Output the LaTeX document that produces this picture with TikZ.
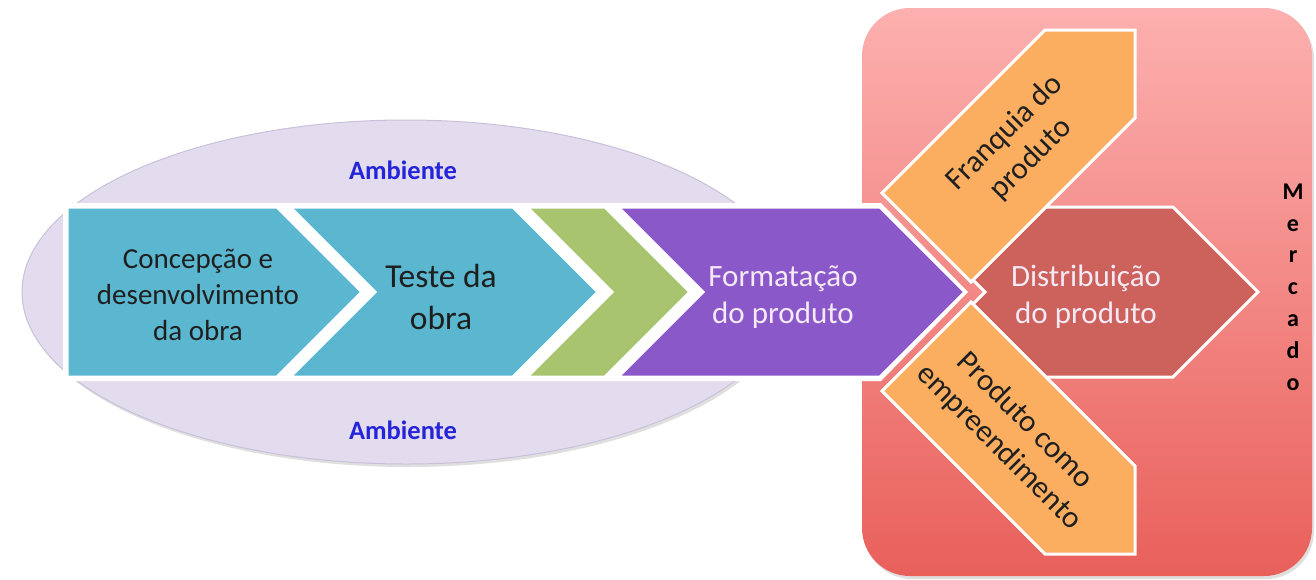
\documentclass[tikz,border=0pt]{standalone}
\usepackage{fontspec}
\setmainfont{Carlito}
\usetikzlibrary{shadows}
\definecolor{ellcol}{HTML}{E3DCEE}
\definecolor{elledge}{HTML}{C9C1D9}
\definecolor{bluecol}{HTML}{5AB7CF}
\definecolor{greencol}{HTML}{A8C46E}
\definecolor{purplecol}{HTML}{8A58C8}
\definecolor{orangecol}{HTML}{FBAE60}
\definecolor{darkred}{HTML}{CD615B}
\definecolor{boxtop}{HTML}{FCB0AF}
\definecolor{boxbot}{HTML}{E9605B}
\definecolor{ambblue}{HTML}{2424D8}
\definecolor{lighttext}{HTML}{F3EAF6}
\begin{document}
\begin{tikzpicture}[x=1pt,y=-1pt,
  shapebox/.style={draw=white,line width=3pt,line join=miter},
  lbl/.style={align=center,inner sep=0pt},
  amb/.style={font=\bfseries\fontsize{26.5}{30}\selectfont,text=ambblue,inner sep=0pt}]
\useasboundingbox (0,0) rectangle (1316,579);
% ellipse "Ambiente"
\fill[ellcol,draw=elledge,line width=1pt,drop shadow={opacity=0.25,shadow xshift=2pt,shadow yshift=-3pt}]
  (406,292) ellipse [x radius=384pt,y radius=172pt];
% Mercado box
\shade[top color=boxtop,bottom color=boxbot,rounded corners=48pt,
  drop shadow={opacity=0.25,shadow xshift=2pt,shadow yshift=-3pt}]
  (862,8) rectangle (1312,576);
% white backing for the chevron band
\fill[white] (63,203) -- (881,203) -- (968,292) -- (881,381) -- (63,381) -- cycle;
% chevrons
\filldraw[shapebox,fill=bluecol] (67,207) -- (277,207) -- (362,292) -- (277,377) -- (67,377) -- cycle;
\filldraw[shapebox,fill=bluecol] (290,207) -- (513,207) -- (598,292) -- (513,377) -- (290,377) -- (375,292) -- cycle;
\filldraw[shapebox,fill=greencol] (527,207) -- (605,207) -- (690,292) -- (605,377) -- (527,377) -- (612,292) -- cycle;
\filldraw[shapebox,fill=purplecol] (618,207) -- (880,207) -- (965,292) -- (880,377) -- (618,377) -- (703,292) -- cycle;
% distribution chevron
\filldraw[shapebox,fill=darkred] (900,207) -- (1173,207) -- (1258,292) -- (1173,377) -- (900,377) -- (985,292) -- cycle;
% orange diagonal pentagons
\filldraw[shapebox,fill=orangecol] (1045,30) -- (1135,30) -- (1135,118) -- (971,282) -- (882,193) -- cycle;
\filldraw[shapebox,fill=orangecol] (1045,554) -- (1135,554) -- (1135,466) -- (971,302) -- (882,391) -- cycle;
% texts
\node[amb] (amb1) at (403,170) {Ambiente};
\node[amb] (amb2) at (403,430) {Ambiente};
\node[lbl,font=\fontsize{29}{36}\selectfont,text=black!88] (conc) at (198,295) {Concepção e\\desenvolvimento\\da obra};
\node[lbl,font=\fontsize{33.5}{42}\selectfont,text=black!88] (teste) at (441,297) {Teste da\\obra};
\node[lbl,font=\fontsize{31}{37}\selectfont,text=lighttext] (form) at (783,297) {Formatação\\do produto};
\node[lbl,font=\fontsize{31}{37}\selectfont,text=lighttext] (dist) at (1086,297) {Distribuição\\do produto};
\node[lbl,font=\fontsize{31}{37}\selectfont,text=black!88,rotate=45] (franq) at (1018,146) {Franquia do\\produto};
\node[lbl,font=\fontsize{31}{37}\selectfont,text=black!88,rotate=-45] (prod) at (1012,434) {Produto como\\empreendimento};
\node[lbl,font=\bfseries\fontsize{24}{31.8}\selectfont,text=black] (merc) at (1293,287) {M\\e\\r\\c\\a\\d\\o};
\end{tikzpicture}
\end{document}
